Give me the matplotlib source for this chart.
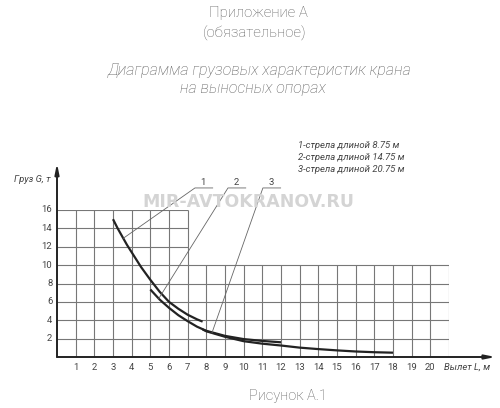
import numpy as np
import matplotlib
matplotlib.use('Agg')
import matplotlib.pyplot as plt

# load curves (reach L, m -> load G, t)
boom1_x = [3.0, 3.25, 3.5, 3.75, 4.0, 4.5, 5.0, 5.5, 6.0, 6.5, 7.0, 7.5, 7.8]
boom1_y = [15.0, 14.0, 13.1, 12.2, 11.4, 9.8, 8.4, 7.1, 6.0, 5.25, 4.6, 4.1, 3.85]

boom2_x = [5.0, 5.5, 6.0, 6.5, 7.0, 7.5, 8.0, 9.0, 10.0, 11.0, 12.0]
boom2_y = [7.35, 6.25, 5.35, 4.55, 3.9, 3.3, 2.85, 2.3, 1.95, 1.75, 1.6]

boom3_x = [7.8, 8.0, 9.0, 10.0, 11.0, 12.0, 13.0, 14.0, 15.0, 16.0, 17.0, 18.0]
boom3_y = [3.0, 2.8, 2.2, 1.72, 1.45, 1.25, 1.02, 0.86, 0.72, 0.6, 0.52, 0.47]

x_ticks = list(range(1, 21))
y_ticks = [2, 4, 6, 8, 10, 12, 14, 16]
legend_lines = ['1-стрела длиной 8.75 м',
                '2-стрела длиной 14.75 м',
                '3-стрела длиной 20.75 м']
leader_at = [3.55, 5.45, 8.3]  # where the numbered leaders touch the curves

font = ['Roboto', 'DejaVu Sans']
grey = '#5a5a5a'
ink = '#222222'
small = dict(fontsize=6.8, color='#444444', family=font)

fig = plt.figure(figsize=(5.0, 4.08), dpi=100)
ax = fig.add_axes([57 / 500, 51 / 408, 392 / 500, 147 / 408])
ax.set_xlim(0, 21)
ax.set_ylim(0, 16)
ax.axis('off')

# grid: lower block up to 10 t out to 21 m, upper block up to 16 t out to 7 m
gx = np.arange(1, 22)
ax.vlines(gx, 0, np.where(gx <= 7, 16, 10), color='#777777', lw=0.8)
gy = np.arange(2, 17, 2)
ax.hlines(gy, 0, np.where(gy <= 10, 21, 7), color='#777777', lw=0.8)

# axes with arrows
arrow = dict(arrowstyle='-|>,head_length=0.6,head_width=0.12', color=ink, lw=1.4,
             shrinkA=0, shrinkB=0)
ax.annotate('', xy=(0, 21.1), xytext=(0, 0), arrowprops=arrow, annotation_clip=False)
ax.annotate('', xy=(23.5, 0), xytext=(0, 0), arrowprops=arrow, annotation_clip=False)

curves = [(boom1_x, boom1_y), (boom2_x, boom2_y), (boom3_x, boom3_y)]
for xs, ys in curves:
    ax.plot(xs, ys, color=ink, lw=1.6, solid_capstyle='butt',
            solid_joinstyle='round', clip_on=False)

for t in x_ticks:
    ax.text(t, -1.1, str(t), ha='center', va='center', **small)
for t in y_ticks:
    ax.text(-0.25, t, str(t), ha='right', va='center', **small)
ax.text(20.75, -1.1, 'Вылет L, м', ha='left', va='center', style='italic', **small)
ax.text(-1.34, 19.3, 'Груз G, т', ha='center', va='center', style='italic', **small)

# numbered leaders
starts = [7.39, 9.16, 11.03]
for i, ((xs, ys), lx, sx) in enumerate(zip(curves, leader_at, starts)):
    ly = np.interp(lx, xs, ys)
    ax.plot([lx, sx, sx + 0.95], [ly, 18.4, 18.4], color='#666666', lw=0.6,
            clip_on=False)
    ax.text(sx + 0.45, 18.5, str(i + 1), ha='center', va='bottom', **small)

# legend block
for i, s in enumerate(legend_lines):
    fig.text(298 / 500, 1 - (146 + 11.5 * i) / 408, s, ha='left', va='center',
             style='italic', **small)

# headings
head = dict(fontsize=10.8, color=grey, family=font, fontweight='light')
fig.text(258 / 500, 1 - 13 / 408, 'Приложение А', ha='center', va='center', **head)
fig.text(255 / 500, 1 - 33 / 408, '(обязательное)', ha='center', va='center', **head)
head['fontsize'] = 11.5
fig.text(260 / 500, 1 - 70 / 408, 'Диаграмма грузовых характеристик крана',
         ha='center', va='center', style='italic', **head)
fig.text(253 / 500, 1 - 88 / 408, 'на выносных опорах', ha='center', va='center',
         style='italic', **head)
head['fontsize'] = 10.5
fig.text(288 / 500, 1 - 396 / 408, 'Рисунок А.1', ha='center', va='center', **head)

# watermark
fig.text(248 / 500, 1 - 202 / 408, 'MIR-AVTOKRANOV.RU', ha='center', va='center',
         fontsize=12.5, fontweight='bold', color='#d4d4d4', family='DejaVu Sans')

fig.savefig('out.png', dpi=100, facecolor='white')
